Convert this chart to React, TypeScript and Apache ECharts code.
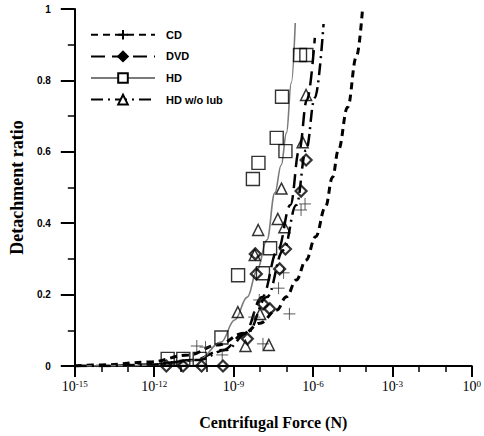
import React, { useEffect, useRef } from "react";
import * as echarts from "echarts";

// x values are log10(Centrifugal Force [N]); y values are detachment ratio
const seriesNames = ["CD", "DVD", "HD", "HD w/o lub"];

// fitted curves: [log10 F, ratio]
const cdCurve = [
  [-15, 0], [-14, 0.003], [-12.2, 0.011], [-10.7, 0.031], [-9.6, 0.059], [-8.6, 0.092],
  [-8.0, 0.12], [-7.37, 0.157], [-7.0, 0.194], [-6.63, 0.241], [-6.26, 0.297], [-5.9, 0.362],
  [-5.53, 0.445], [-5.26, 0.529], [-5.04, 0.605], [-4.69, 0.725], [-4.36, 0.866], [-4.13, 0.997],
];
const dvdCurve = [
  [-15, 0], [-14, 0], [-12.16, 0.004], [-10.5, 0.017], [-9.4, 0.045], [-8.59, 0.092],
  [-7.92, 0.193], [-7.33, 0.325], [-6.85, 0.451], [-6.52, 0.605], [-6.23, 0.745], [-5.93, 0.919],
];
const hdCurve = [
  [-15, 0], [-13.27, 0.001], [-11.42, 0.004], [-10.32, 0.017], [-9.47, 0.067], [-8.96, 0.129],
  [-8.48, 0.193], [-8.11, 0.269], [-7.74, 0.353], [-7.44, 0.485], [-7.2, 0.563], [-7.0, 0.653],
  [-6.82, 0.793], [-6.67, 0.961],
];
const hdNoLubCurve = [
  [-15, 0], [-14, 0], [-12.16, 0.004], [-10.32, 0.017], [-9.29, 0.045], [-8.48, 0.092],
  [-7.74, 0.193], [-7.11, 0.325], [-6.63, 0.451], [-6.26, 0.605], [-5.93, 0.751], [-5.6, 0.958],
];

// measured points: [log10 F, ratio]
const cdPoints = [
  [-6.3, 0.454], [-6.45, 0.437], [-7.11, 0.261], [-7.3, 0.218], [-8.03, 0.185], [-6.89, 0.146],
  [-8.22, 0.137], [-7.89, 0.062], [-10.39, 0.056], [-10.06, 0.053], [-9.43, 0.031],
];
const dvdPoints = [
  [-6.26, 0.577], [-6.45, 0.49], [-7.04, 0.328], [-7.26, 0.272], [-8.18, 0.314], [-8.14, 0.258],
  [-7.89, 0.174], [-7.63, 0.16], [-8.48, 0.076], [-9.4, 0], [-10.21, 0], [-10.91, 0], [-11.54, 0],
];
const hdPoints = [
  [-6.49, 0.871], [-6.25, 0.871], [-7.17, 0.754], [-7.04, 0.602], [-7.37, 0.639], [-8.06, 0.569],
  [-8.27, 0.524], [-7.62, 0.33], [-8.83, 0.254], [-7.89, 0.26], [-9.46, 0.08], [-11.49, 0.02],
  [-10.9, 0.02], [-10.28, 0.02],
];
const hdNoLubPoints = [
  [-6.26, 0.759], [-6.39, 0.627], [-7.19, 0.497], [-7.33, 0.412], [-7.08, 0.389], [-8.07, 0.381],
  [-8.2, 0.311], [-8.84, 0.151], [-8.0, 0.146], [-8.55, 0.056], [-7.67, 0.059],
];

const crossPath = "path://M0,6H12M6,0V12";

export default function App() {
  const ref = useRef<HTMLDivElement>(null);
  useEffect(() => {
    if (!ref.current) return;
    const chart = echarts.init(ref.current, null, { renderer: "svg" });
    const serif = "'Liberation Serif', 'Times New Roman', serif";
    const narrow = "'Liberation Sans Narrow', 'Liberation Sans', Arial, sans-serif";

    const curveStyles = [
      { color: "#000", width: 3, type: [7, 5] },
      { color: "#000", width: 2.5, type: [14, 7] },
      { color: "#7a7a7a", width: 1.6, type: "solid" },
      { color: "#000", width: 2.5, type: [12, 5, 2, 5] },
    ];
    const legendSymbols = [crossPath, "diamond", "emptyRect", "emptyTriangle"];
    const curves = [cdCurve, dvdCurve, hdCurve, hdNoLubCurve];
    const points = [cdPoints, dvdPoints, hdPoints, hdNoLubPoints];
    const pointSymbols = [crossPath, "diamond", "rect", "triangle"];
    const pointSizes = [12, 11, 13, 11];
    const pointStyles = [
      { color: "transparent", borderColor: "#333", borderWidth: 1 },
      { color: "transparent", borderColor: "#000", borderWidth: 2.2 },
      { color: "transparent", borderColor: "#000", borderWidth: 1.4 },
      { color: "transparent", borderColor: "#000", borderWidth: 1.5 },
    ];

    const series: any[] = [];
    seriesNames.forEach((name, i) => {
      series.push({
        name,
        type: "line",
        data: curves[i],
        smooth: 0.4,
        smoothMonotone: "x",
        showSymbol: false,
        symbol: legendSymbols[i],
        symbolSize: 10,
        itemStyle: { color: "#000", borderColor: "#000", borderWidth: i === 0 ? 1.2 : 1 },
        lineStyle: curveStyles[i],
        silent: true,
        z: 2,
      });
    });
    seriesNames.forEach((name, i) => {
      series.push({
        name,
        type: "scatter",
        data: points[i],
        symbol: pointSymbols[i],
        symbolSize: pointSizes[i],
        itemStyle: pointStyles[i],
        silent: true,
        z: 3,
      });
    });

    chart.setOption({
      animation: false,
      backgroundColor: "#fff",
      grid: { left: 73, right: 7, top: 9, bottom: 70 },
      legend: {
        orient: "vertical",
        left: 90,
        top: 29,
        padding: 0,
        itemWidth: 64,
        itemHeight: 12,
        itemGap: 10,
        selectedMode: false,
        data: seriesNames,
        textStyle: { fontFamily: narrow, fontWeight: "bold", fontSize: 11, color: "#000", padding: [0, 0, 0, 6] },
      },
      xAxis: {
        type: "value",
        min: -15,
        max: 0,
        interval: 3,
        name: "Centrifugal Force (N)",
        nameLocation: "middle",
        nameGap: 48,
        nameTextStyle: { fontFamily: serif, fontWeight: "bold", fontSize: 16, color: "#000" },
        axisLine: { onZero: false, lineStyle: { color: "#000", width: 2 } },
        axisTick: { length: 11, lineStyle: { color: "#000", width: 2 } },
        minorTick: { show: true, splitNumber: 3, length: 6, lineStyle: { color: "#000", width: 1.5 } },
        splitLine: { show: false },
        axisLabel: {
          margin: 13,
          showMinLabel: true,
          showMaxLabel: true,
          formatter: (v: number) => `{b|10}{s|${v}}`,
          rich: {
            b: { fontFamily: serif, fontSize: 14, color: "#000", lineHeight: 14, padding: [4, 0, 0, 0], verticalAlign: "bottom" },
            s: { fontFamily: serif, fontSize: 9, color: "#000", lineHeight: 9, verticalAlign: "top" },
          },
        },
      },
      yAxis: {
        type: "value",
        min: 0,
        max: 1,
        interval: 0.2,
        name: "Detachment ratio",
        nameLocation: "middle",
        nameGap: 48,
        nameTextStyle: { fontFamily: serif, fontWeight: "bold", fontSize: 18, color: "#000" },
        axisLine: { show: true, onZero: false, lineStyle: { color: "#000", width: 2 } },
        axisTick: { show: true, length: 14, lineStyle: { color: "#000", width: 2 } },
        minorTick: { show: true, splitNumber: 2, length: 7, lineStyle: { color: "#000", width: 1.5 } },
        splitLine: { show: false },
        axisLabel: {
          margin: 24,
          fontFamily: narrow,
          fontWeight: "bold",
          fontSize: 10,
          color: "#000",
          formatter: (v: number) => (v === 0 || v === 1 ? String(v) : v.toFixed(1)),
        },
      },
      series,
    });
    return () => chart.dispose();
  }, []);
  return <div ref={ref} style={{ position: "absolute", left: 0, top: 0, width: 484, height: 436 }} />;
}
